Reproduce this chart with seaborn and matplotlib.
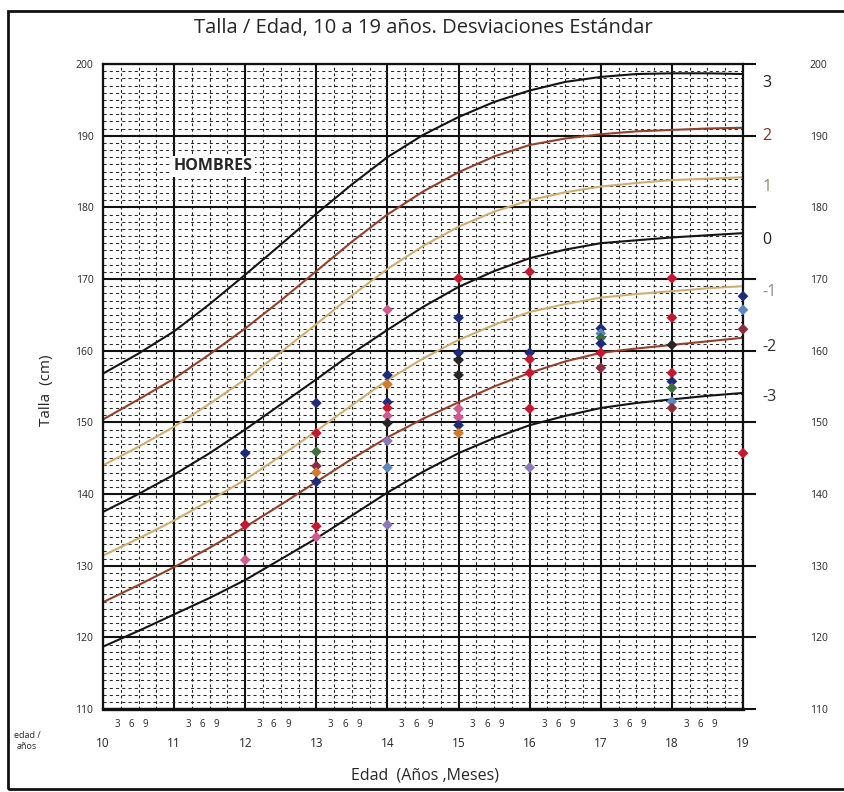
import pandas as pd
import matplotlib.pyplot as plt
import matplotlib.transforms as mtransforms
import seaborn as sns

# Curvas de desviación estándar (talla en cm)
edades = [10, 10.5, 11, 11.5, 12, 12.5, 13, 13.5, 14, 14.5,
          15, 15.5, 16, 16.5, 17, 17.5, 18, 18.5, 19]
de_p3 = [156.8, 159.6, 162.7, 166.5, 170.6, 174.8, 179.1, 183.2, 187.0, 190.1,
         192.6, 194.7, 196.3, 197.5, 198.2, 198.6, 198.7, 198.7, 198.6]
de_p2 = [150.4, 153.2, 156.1, 159.5, 163.1, 167.0, 171.1, 175.2, 179.0, 182.2,
         184.9, 187.1, 188.7, 189.6, 190.2, 190.6, 190.8, 191.0, 191.1]
de_p1 = [144.0, 146.6, 149.4, 152.6, 156.0, 159.8, 163.7, 167.7, 171.4, 174.6,
         177.3, 179.4, 181.0, 182.1, 182.9, 183.4, 183.8, 184.0, 184.2]
de_0 = [137.5, 140.0, 142.7, 145.7, 149.0, 152.5, 156.0, 159.6, 162.9, 166.1,
        168.9, 171.1, 172.9, 174.1, 175.0, 175.4, 175.8, 176.1, 176.4]
de_m1 = [131.4, 133.8, 136.3, 139.1, 142.0, 145.3, 148.8, 152.4, 155.9, 158.9,
         161.5, 163.6, 165.4, 166.5, 167.4, 167.9, 168.3, 168.7, 169.0]
de_m2 = [124.9, 127.3, 129.8, 132.5, 135.4, 138.5, 141.7, 144.9, 147.9, 150.5,
         152.8, 155.0, 156.9, 158.5, 159.7, 160.3, 160.8, 161.3, 161.8]
de_m3 = [118.7, 120.9, 123.2, 125.5, 128.0, 130.9, 133.8, 137.0, 140.2, 143.1,
         145.7, 147.8, 149.6, 150.9, 152.0, 152.7, 153.2, 153.7, 154.1]

nombres_de = ["3", "2", "1", "0", "-1", "-2", "-3"]
etiqueta_y = [197.3, 190.0, 182.9, 175.4, 168.2, 160.5, 153.5]

# Mediciones marcadas sobre la gráfica
pt_edad = [12, 12, 12,
           13, 13, 13, 13, 13, 13, 13, 13,
           14, 14, 14, 14, 14, 14, 14, 14, 14, 14,
           15, 15, 15, 15, 15, 15, 15, 15, 15,
           16, 16, 16, 16, 16, 16,
           17, 17, 17, 17, 17, 17,
           18, 18, 18, 18, 18, 18, 18, 18,
           19, 19, 19, 19]
pt_talla = [145.7, 135.7, 130.8,
            152.7, 148.5, 145.9, 143.9, 143.0, 141.7, 135.5, 134.0,
            165.7, 156.6, 155.3, 152.8, 152.0, 150.9, 149.9, 147.4, 143.7, 135.7,
            170.1, 164.6, 159.7, 158.7, 156.6, 151.9, 150.7, 149.6, 148.5,
            171.0, 159.7, 158.8, 156.9, 151.9, 143.7,
            163.1, 162.4, 161.8, 161.0, 159.7, 157.6,
            170.1, 164.6, 160.8, 156.9, 155.7, 154.8, 152.9, 152.0,
            167.6, 165.7, 163.0, 145.7]
pt_grupo = ["azul", "rojo", "rosa",
            "azul", "rojo", "verde", "granate", "naranja", "azul", "rojo", "rosa",
            "rosa", "azul", "naranja", "azul", "rojo", "rosa", "negro", "morado", "celeste", "morado",
            "rojo", "azul", "azul", "negro", "negro", "rosa", "rosa", "azul", "naranja",
            "rojo", "azul", "rojo", "rojo", "rojo", "morado",
            "azul", "celeste", "verde", "azul", "rojo", "granate",
            "rojo", "rojo", "negro", "rojo", "azul", "verde", "celeste", "granate",
            "azul", "celeste", "granate", "rojo"]

colores_de = {"3": "#151515", "2": "#94402a", "1": "#cfae72", "0": "#151515",
              "-1": "#cfae72", "-2": "#94402a", "-3": "#151515"}
colores_txt = {"3": "#222222", "2": "#7a3420", "1": "#8a8474", "0": "#222222",
               "-1": "#8a8a8a", "-2": "#333333", "-3": "#333333"}
colores_pt = {"azul": "#1d2c7c", "rojo": "#c8162f", "rosa": "#d35a8e",
              "negro": "#262626", "verde": "#3f6f3a", "celeste": "#5a88c4",
              "naranja": "#d27b2c", "morado": "#8b78b8", "granate": "#8c2c3c"}

curvas = pd.DataFrame({
    "edad": edades * 7,
    "talla": de_p3 + de_p2 + de_p1 + de_0 + de_m1 + de_m2 + de_m3,
    "de": [n for n in nombres_de for _ in edades],
})
puntos = pd.DataFrame({"edad": pt_edad, "talla": pt_talla, "grupo": pt_grupo})

sns.set_theme(style="white")
plt.rcParams["font.family"] = ["Open Sans", "DejaVu Sans"]

W, H = 845, 792
fig = plt.figure(figsize=(W / 100, H / 100), dpi=100)
ax = fig.add_axes([103 / W, 1 - 709 / H, 640 / W, 645 / H])

anios = list(range(10, 20))
trimestres = [a + q for a in range(10, 19) for q in (0.25, 0.5, 0.75)]

ax.set_xlim(10, 19)
ax.set_ylim(110, 200)
ax.set_xticks(anios)
ax.set_xticklabels([str(a) for a in anios])
ax.set_xticks(trimestres, minor=True)
ax.set_yticks(range(110, 201, 10))
ax.set_yticks(range(110, 201, 1), minor=True)

ax.grid(which="major", color="#111111", linewidth=1.5)
ax.xaxis.grid(which="minor", color="#222222", linewidth=0.8, linestyle=(0, (2.5, 2.5)))
ax.yaxis.grid(which="minor", color="#2a2a2a", linewidth=0.75, linestyle=(0, (3, 3)))
ax.set_axisbelow(True)

sns.lineplot(data=curvas, x="edad", y="talla", hue="de", hue_order=nombres_de,
             palette=colores_de, estimator=None, sort=False, legend=False,
             linewidth=1.5, ax=ax)
sns.scatterplot(data=puntos, x="edad", y="talla", hue="grupo", palette=colores_pt,
                marker="D", s=30, edgecolor="none", legend=False, clip_on=False,
                zorder=5, ax=ax)

ax.set_xlabel("")
ax.set_ylabel("")
for s in ax.spines.values():
    s.set_color("#111111")
    s.set_linewidth(1.6)
ax.spines["bottom"].set_linewidth(2.4)

ax.tick_params(axis="x", which="major", length=0, pad=20, labelsize=8.5)
ax.tick_params(axis="x", which="minor", length=0)
ax.tick_params(axis="y", which="major", length=0, pad=7, labelsize=7.5)
ax.tick_params(axis="y", which="minor", length=0)

# eje derecho: marcas que sobresalen y etiquetas alejadas
ax2 = ax.twinx()
ax2.set_ylim(110, 200)
ax2.set_yticks(range(110, 201, 10))
ax2.tick_params(axis="y", length=9, width=1.5, color="#111111", direction="out",
                pad=39, labelsize=7.5)
ax2.grid(False)
for s in ax2.spines.values():
    s.set_visible(False)

# etiquetas de las desviaciones
for n, yy in zip(nombres_de, etiqueta_y):
    ax.text(19.27, yy, n, color=colores_txt[n], fontsize=11.5, ha="left", va="center")

# meses 3 6 9
trans = mtransforms.blended_transform_factory(ax.transData, ax.transAxes)
for a in range(10, 19):
    for off, m in zip((0.2, 0.4, 0.6), ("3", "6", "9")):
        ax.text(a + off, -0.016, m, transform=trans, fontsize=7, ha="center",
                va="top")

ax.text(11.55, 185.7, "HOMBRES", fontsize=11.5, fontweight="bold", ha="center",
        va="center", bbox=dict(facecolor="white", edgecolor="none", pad=1.5))

fig.text(423 / W, 1 - 28 / H, "Talla / Edad, 10 a 19 años. Desviaciones Estándar",
         fontsize=14.5, ha="center", va="center")
fig.text(47 / W, 1 - 390 / H, "Talla  (cm)", rotation=90, fontsize=11,
         ha="center", va="center")
fig.text(425 / W, 1 - 775 / H, "Edad  (Años ,Meses)", fontsize=11.5,
         ha="center", va="center")
fig.text(27 / W, 1 - 741 / H, "edad /\naños", fontsize=6.5, ha="center",
         va="center", linespacing=1.2)

# marco exterior
fig.patches.append(plt.Rectangle((8 / W, 3 / H), 1.2, 1 - 14 / H,
                                 transform=fig.transFigure, fill=False,
                                 edgecolor="#111111", linewidth=2))

fig.savefig("out.png", dpi=100)
